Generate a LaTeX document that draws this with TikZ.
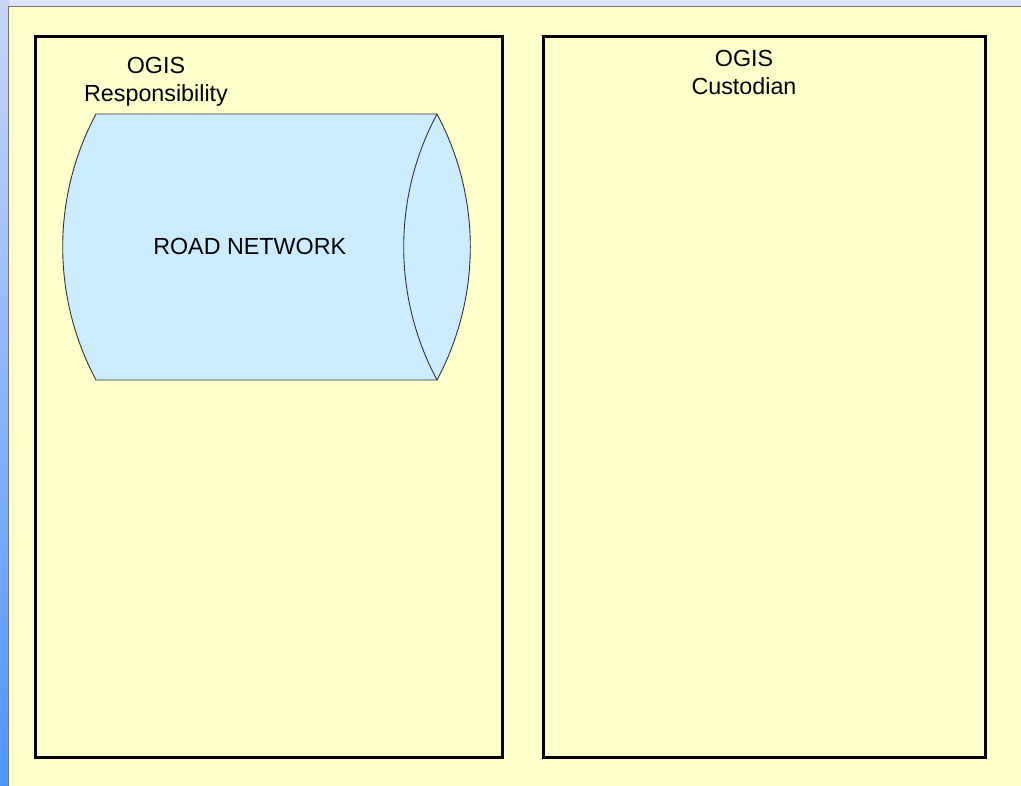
\documentclass[tikz,border=0pt]{standalone}
\usepackage{fontspec}
\setmainfont{Liberation Sans}
\definecolor{pageyellow}{HTML}{FFFFCC}
\definecolor{canblue}{HTML}{CCECFF}
\definecolor{bandtop}{HTML}{DCE5FB}
\definecolor{stripTop}{HTML}{C8D5F8}
\definecolor{stripBot}{HTML}{4D96FF}
\tikzset{
  panel/.style={draw=black, line width=3pt},
  lbl/.style={font=\fontsize{23.3}{28}\selectfont, anchor=base, inner sep=0pt},
  can/.style={fill=canblue, draw=black!80, line width=0.9pt, line join=miter}
}
\begin{document}
\begin{tikzpicture}[x=1pt,y=-1pt]
\useasboundingbox (0,0) rectangle (1021,786);
% background
\fill[bandtop] (0,0) rectangle (1021,7);
\shade[top color=stripTop, bottom color=stripBot] (0,0) rectangle (9,786);
\fill[pageyellow] (9,7) rectangle (1021,786);
\draw[black!55, line width=1.2pt] (8.6,786) -- (8.6,6.6) -- (1021,6.6);
% panels
\draw[panel] (35,37) rectangle (502,757);
\draw[panel] (543,37) rectangle (985,757);
% cylinder
\coordinate (tl) at (96,114);
\coordinate (tr) at (437,114);
\coordinate (br) at (437,380);
\coordinate (bl) at (96,380);
\draw[can] (tl) -- (tr) .. controls (481.4,197.1) and (481.4,296.9) .. (br) -- (bl)
  .. controls (51.6,296.9) and (51.6,197.1) .. (tl) -- cycle;
\draw[can, fill=none] (tr) .. controls (392.6,197.1) and (392.6,296.9) .. (br);
% labels
\node[lbl] (ogisL) at (156,74) {OGIS};
\node[lbl] (respL) at (156,102) {Responsibility};
\node[lbl] (ogisR) at (744,67) {OGIS};
\node[lbl] (custR) at (744,95) {Custodian};
\node[lbl] (road) at (249.7,254.3) {ROAD NETWORK};
\end{tikzpicture}
\end{document}
